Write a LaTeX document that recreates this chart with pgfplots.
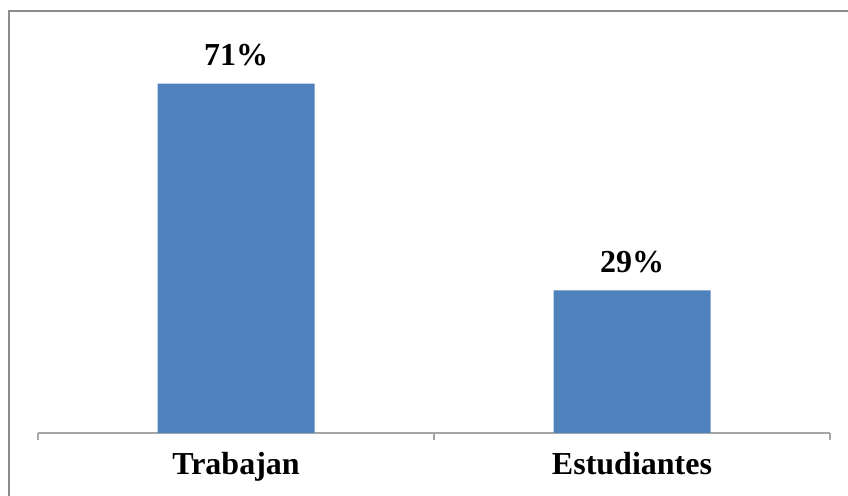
\documentclass[border=0pt]{standalone}
\usepackage{pgfplots}
\pgfplotsset{compat=1.18}
\usepackage{fontspec}
\setmainfont{Liberation Serif}
\definecolor{barblue}{HTML}{4F81BD}
\definecolor{framegray}{HTML}{8C8C8C}
\definecolor{axisgray}{HTML}{A6A6A6}
\begin{document}
\begin{tikzpicture}[x=1pt,y=1pt]
\useasboundingbox (0,0) rectangle (848,495);
% chart area frame (right and bottom edges fall outside the picture)
\draw[framegray, line width=2pt] (9,-20) -- (9,483.5) -- (870,483.5);
\begin{axis}[
    at={(38pt,62pt)}, anchor=south west,
    scale only axis, width=792pt, height=393.6pt,
    xmin=-0.5, xmax=1.5, ymin=0, ymax=80,
    axis y line=none, axis x line*=bottom,
    x axis line style={axisgray, line width=1.5pt, -},
    ybar, bar width=157pt,
    xtick={0,1}, xticklabels={Trabajan,Estudiantes},
    major tick length=0pt,
    extra x ticks={-0.5,0.5,1.5}, extra x tick labels={},
    extra x tick style={major tick length=7pt, tick align=outside,
        tick style={axisgray, line width=1.5pt}},
    xticklabel style={font=\fontsize{32}{36}\selectfont\bfseries, yshift=-16pt},
    /pgf/number format/assume math mode=true,
    nodes near coords={\pgfmathprintnumber{\pgfplotspointmeta}\%},
    every node near coord/.append style={font=\fontsize{32}{36}\selectfont\bfseries, black, yshift=14pt},
    clip=false,
]
\addplot[fill=barblue, draw=none] coordinates {(0,71) (1,29)};
\end{axis}
\end{tikzpicture}
\end{document}
